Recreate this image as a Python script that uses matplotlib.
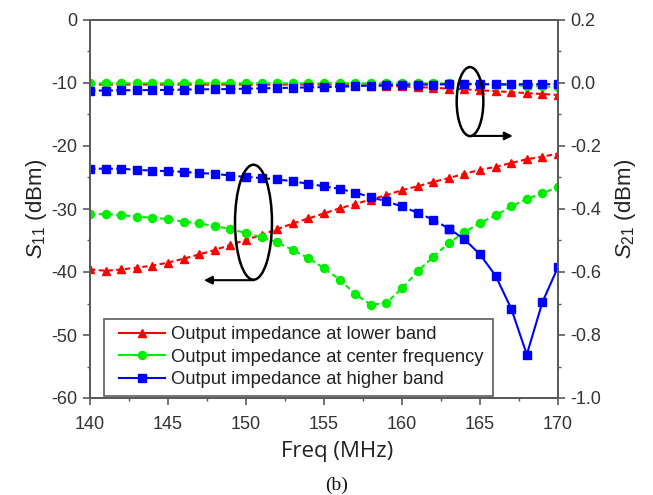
import matplotlib
matplotlib.use("Agg")
import matplotlib.pyplot as plt
from matplotlib.patches import Ellipse
from matplotlib.lines import Line2D
from matplotlib.legend_handler import HandlerLine2D
from matplotlib.ticker import MultipleLocator

plt.rcParams['font.family'] = ['Liberation Sans', 'DejaVu Sans']
plt.rcParams['mathtext.fontset'] = 'custom'
plt.rcParams['mathtext.rm'] = 'Liberation Sans'
plt.rcParams['mathtext.it'] = 'Liberation Sans:italic'
plt.rcParams['axes.unicode_minus'] = False

freq = list(range(140, 171))

s11_lower = [-39.6, -39.8, -39.6, -39.3, -39.0, -38.5, -37.9, -37.2, -36.5, -35.7,
             -34.9, -34.1, -33.2, -32.3, -31.5, -30.7, -29.9, -29.2, -28.5, -27.8,
             -27.0, -26.4, -25.7, -25.1, -24.4, -23.8, -23.3, -22.7, -22.1, -21.7, -21.2]
s11_center = [-30.8, -30.8, -31.0, -31.2, -31.4, -31.6, -32.0, -32.3, -32.7, -33.2,
              -33.8, -34.5, -35.3, -36.5, -37.8, -39.4, -41.2, -43.5, -45.2, -44.9,
              -42.6, -39.9, -37.6, -35.4, -33.7, -32.2, -31.0, -29.6, -28.4, -27.5, -26.5]
s11_higher = [-23.6, -23.6, -23.6, -23.8, -23.9, -24.0, -24.1, -24.3, -24.4, -24.7,
              -24.9, -25.1, -25.3, -25.6, -26.0, -26.4, -26.8, -27.4, -28.1, -28.8,
              -29.6, -30.6, -31.7, -33.1, -34.8, -37.2, -40.6, -45.8, -53.1, -44.8, -39.2]

s21_lower = [-0.005, -0.005, -0.005, -0.005, -0.005, -0.005, -0.005, -0.005, -0.005, -0.005,
             -0.005, -0.005, -0.005, -0.005, -0.005, -0.005, -0.006, -0.007, -0.008, -0.009,
             -0.011, -0.013, -0.015, -0.018, -0.020, -0.023, -0.026, -0.029, -0.032, -0.035, -0.038]
s21_center = [-0.001, -0.001, -0.001, -0.001, -0.001, -0.001, -0.001, -0.001, -0.001, -0.001,
              -0.001, -0.001, -0.001, -0.001, -0.001, -0.001, -0.001, -0.001, -0.001, -0.001,
              -0.001, -0.001, -0.001, -0.001, -0.002, -0.003, -0.005, -0.007, -0.009, -0.011, -0.013]
s21_higher = [-0.024, -0.024, -0.023, -0.023, -0.022, -0.022, -0.021, -0.020, -0.020, -0.019,
              -0.018, -0.017, -0.016, -0.015, -0.014, -0.013, -0.012, -0.010, -0.008, -0.007,
              -0.006, -0.005, -0.005, -0.004, -0.004, -0.004, -0.004, -0.004, -0.004, -0.004, -0.004]

labels = ["Output impedance at lower band",
          "Output impedance at center frequency",
          "Output impedance at higher band"]
colors = ["#ff0000", "#00ee00", "#0000ff"]
markers = ["^", "o", "s"]
msizes = [6.2, 5.8, 5.2]

W, H = 653, 495
fig = plt.figure(figsize=(W / 100, H / 100), dpi=100)
L, R, T, B = 90, 558, 20, 398
ax = fig.add_axes([L / W, 1 - B / H, (R - L) / W, (B - T) / H])
ax2 = ax.twinx()

dash = (2.6, 1.6)
lw = 1.5

# S21 (right axis)
for ys, c, m, ms in zip([s21_lower, s21_center, s21_higher], colors, markers, msizes):
    ax2.plot(freq, ys, color=c, marker=m, ms=ms, lw=lw, dashes=dash, mec=c, mfc=c)

# S11 (left axis)
ax.plot(freq, s11_lower, color=colors[0], marker=markers[0], ms=msizes[0], lw=lw, dashes=dash)
ax.plot(freq, s11_center, color=colors[1], marker=markers[1], ms=msizes[1], lw=lw, dashes=dash)
k = freq.index(163)
ax.plot(freq[:k + 1], s11_higher[:k + 1], color=colors[2], marker=markers[2], ms=msizes[2], lw=lw, dashes=dash)
ax.plot(freq[k:], s11_higher[k:], color=colors[2], marker=markers[2], ms=msizes[2], lw=lw, ls='-')

handles = [Line2D([], [], color=c, marker=m, ms=ms, lw=lw) for c, m, ms in zip(colors, markers, msizes)]

ax.set_xlim(140, 170)
ax.set_ylim(-60, 0)
ax2.set_ylim(-1.0, 0.2)
ax.xaxis.set_major_locator(MultipleLocator(5))
ax.xaxis.set_minor_locator(MultipleLocator(2.5))
ax.yaxis.set_major_locator(MultipleLocator(10))
ax.yaxis.set_minor_locator(MultipleLocator(5))
ax2.yaxis.set_major_locator(MultipleLocator(0.2))
ax2.yaxis.set_minor_locator(MultipleLocator(0.1))
ax2.yaxis.set_major_formatter(matplotlib.ticker.FormatStrFormatter('%.1f'))

spc = '#5a5a5a'
for a in (ax, ax2):
    for s in a.spines.values():
        s.set_color(spc)
        s.set_linewidth(1.3)
    a.tick_params(which='major', length=5, width=1.2, color=spc, labelsize=13, labelcolor='#333333', pad=4)
    a.tick_params(which='minor', length=2.5, width=1.0, color=spc)
ax.tick_params(axis='x', pad=8)

ax.set_xlabel("Freq (MHz)", fontsize=16, family='Open Sans', color='#222222', labelpad=3)
ax.xaxis.set_label_coords((337 - L) / (R - L), -0.115)
ax.set_ylabel(r"$S_{11}$ (dBm)", fontsize=16, color='#222222', labelpad=2)
ax2.set_ylabel(r"$S_{21}$ (dBm)", fontsize=16, color='#222222', labelpad=8)

leg = ax.legend(handles, labels, loc='lower left', bbox_to_anchor=(0.03, 0.006, 0.831, 0.2),
                mode='expand', fontsize=13.2, frameon=True, fancybox=False, handlelength=2.95,
                borderpad=0.4, labelspacing=0.3, handletextpad=0.3, borderaxespad=0,
                handler_map={Line2D: HandlerLine2D(xpad=0.4)})
leg.get_frame().set_edgecolor('#333333')
leg.get_frame().set_linewidth(1.2)
for t in leg.get_texts():
    t.set_color('#222222')

# annotation ellipses and arrows
e1 = Ellipse((150.48, -32.1), 2.37, 18.25, fill=False, ec='k', lw=1.8, zorder=5)
ax.add_patch(e1)
ax.annotate("", xy=(147.3, -41.3), xytext=(150.5, -41.3),
            arrowprops=dict(arrowstyle='-|>', color='k', lw=1.5, mutation_scale=12, shrinkA=0, shrinkB=0))
e2 = Ellipse((164.36, -0.059), 1.71, 0.219, fill=False, ec='k', lw=1.8, zorder=5)
ax2.add_patch(e2)
ax2.annotate("", xy=(167.1, -0.168), xytext=(164.55, -0.168),
             arrowprops=dict(arrowstyle='-|>', color='k', lw=1.5, mutation_scale=12, shrinkA=0, shrinkB=0))

fig.text(337 / W, 1 - 485 / H, "(b)", ha='center', va='center', fontsize=14, family='Liberation Serif', color='#111111')

fig.savefig("out.png", dpi=100)
